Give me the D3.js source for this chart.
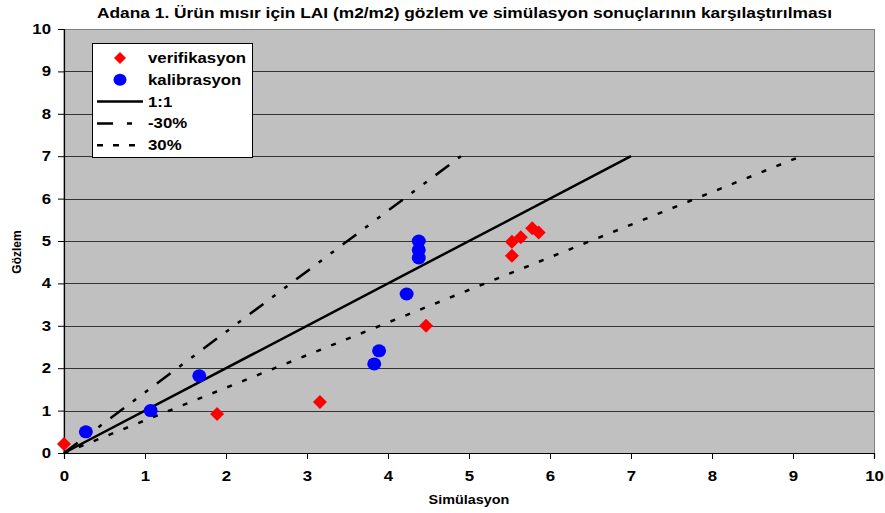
<!DOCTYPE html>
<html>
<head>
<meta charset="utf-8">
<script src="https://cdn.jsdelivr.net/npm/d3@7"></script>
<style>
  body { margin: 0; background: #fff; }
  text { font-family: "Liberation Sans", Arial, sans-serif; font-weight: bold; fill: #000; }
</style>
</head>
<body>
<svg id="chart" width="885" height="513"></svg>
<script>
// data
var verifikasyonX = [0, 1.89, 3.16, 4.47, 5.53, 5.53, 5.64, 5.78, 5.86];
var verifikasyonY = [0.21, 0.92, 1.2, 3.0, 4.65, 4.98, 5.09, 5.3, 5.2];
var kalibrasyonX = [0.27, 1.07, 1.67, 3.83, 3.89, 4.23, 4.38, 4.38, 4.38];
var kalibrasyonY = [0.5, 1.0, 1.82, 2.1, 2.41, 3.75, 4.6, 4.79, 5.0];
var refLines = [
  {name: "1:1", x2: 7, y2: 7, dash: null, legendDash: null},
  {name: "-30%", x2: 4.9, y2: 7, dash: "17,11,4,11,4,11", legendDash: "16,14,5,20"},
  {name: "30%", x2: 9.1, y2: 7, dash: "5,11", legendDash: "6,10"}
];
var ticks = [0, 1, 2, 3, 4, 5, 6, 7, 8, 9, 10];
var title = "Adana 1. Ürün mısır için LAI (m2/m2) gözlem ve simülasyon sonuçlarının karşılaştırılması";

var svg = d3.select("#chart");
var pLeft = 64, pRight = 874, pTop = 29, pBottom = 453;
var stretch = 1.2; // text in the picture is a bit wider than normal

var x = d3.scaleLinear().domain([0, 10]).range([pLeft, pRight]);
var y = d3.scaleLinear().domain([0, 10]).range([pBottom, pTop]);

// plot background
svg.append("rect").attr("x", pLeft).attr("y", pTop + 0.5)
  .attr("width", pRight - pLeft + 0.5).attr("height", pBottom - pTop)
  .attr("fill", "#c0c0c0").attr("stroke", "#808080").attr("stroke-width", 1);

// grid
svg.append("g").selectAll("line").data(ticks.slice(1, 10)).enter().append("line")
  .attr("x1", pLeft).attr("x2", pRight)
  .attr("y1", function(d){ return Math.round(y(d)) + 0.5; })
  .attr("y2", function(d){ return Math.round(y(d)) + 0.5; })
  .attr("stroke", "#333").attr("stroke-width", 1);

// axes
var xAxis = d3.axisBottom(x).tickValues(ticks).tickSize(6).tickPadding(12).tickFormat(d3.format("d"));
var yAxis = d3.axisLeft(y).tickValues(ticks).tickSize(6).tickPadding(13).tickFormat(d3.format("d"));
var gx = svg.append("g").attr("transform", "translate(0," + pBottom + ")").call(xAxis);
var gy = svg.append("g").attr("transform", "translate(" + pLeft + ",0)").call(yAxis);
[gx, gy].forEach(function(g){
  g.select(".domain").attr("stroke", "#000").attr("stroke-width", 1.2);
  g.selectAll(".tick line").attr("stroke", "#000");
  g.selectAll(".tick text").attr("fill", "#000").style("font-size", "14px")
    .style("font-family", "'Liberation Sans', Arial, sans-serif").style("font-weight", "bold");
});
gy.selectAll(".tick text").attr("x", -13 / stretch).attr("transform", "scale(" + stretch + ",1)");
gx.selectAll(".tick text").attr("transform", "scale(" + stretch + ",1)");

// reference lines
svg.append("g").selectAll("line").data(refLines).enter().append("line")
  .attr("x1", x(0)).attr("y1", y(0))
  .attr("x2", function(d){ return x(d.x2); })
  .attr("y2", function(d){ return y(d.y2); })
  .attr("stroke", "#000").attr("stroke-width", 2.5)
  .attr("stroke-dasharray", function(d){ return d.dash; });

// points
var kal = kalibrasyonX.map(function(v, i){ return [v, kalibrasyonY[i]]; });
var ver = verifikasyonX.map(function(v, i){ return [v, verifikasyonY[i]]; });
var diamond = "M0,-7L7,0L0,7L-7,0Z";

svg.append("g").selectAll("ellipse").data(kal).enter().append("ellipse")
  .attr("cx", function(d){ return x(d[0]); })
  .attr("cy", function(d){ return y(d[1]); })
  .attr("rx", 7).attr("ry", 6.5).attr("fill", "#0000ff");

svg.append("g").selectAll("path").data(ver).enter().append("path")
  .attr("d", diamond)
  .attr("transform", function(d){ return "translate(" + x(d[0]) + "," + y(d[1]) + ")"; })
  .attr("fill", "#ff0000");

// legend
var lg = svg.append("g").attr("transform", "translate(92,43)");
lg.append("rect").attr("x", 0.5).attr("y", 0.5).attr("width", 160).attr("height", 114)
  .attr("fill", "#fff").attr("stroke", "#000").attr("stroke-width", 1);
var rows = [
  {label: "verifikasyon", kind: "diamond"},
  {label: "kalibrasyon", kind: "circle"},
  {label: refLines[0].name, kind: "line", dash: refLines[0].legendDash},
  {label: refLines[1].name, kind: "line", dash: refLines[1].legendDash},
  {label: refLines[2].name, kind: "line", dash: refLines[2].legendDash}
];
rows.forEach(function(r, i){
  var cy = 15 + i * 21.8;
  if (r.kind == "diamond") {
    lg.append("path").attr("d", "M0,-6L6,0L0,6L-6,0Z").attr("fill", "#ff0000")
      .attr("transform", "translate(28," + cy + ")");
  } else if (r.kind == "circle") {
    lg.append("ellipse").attr("cx", 28).attr("cy", cy).attr("rx", 6.5).attr("ry", 6).attr("fill", "#0000ff");
  } else {
    lg.append("line").attr("x1", 5).attr("x2", 51).attr("y1", cy).attr("y2", cy)
      .attr("stroke", "#000").attr("stroke-width", 2.5).attr("stroke-dasharray", r.dash);
  }
  lg.append("text").attr("transform", "translate(56," + (cy + 5) + ") scale(" + stretch + ",1)")
    .style("font-size", "14px").text(r.label);
});

// titles
svg.append("text").attr("x", 97).attr("y", 18)
  .attr("textLength", 735).attr("lengthAdjust", "spacingAndGlyphs")
  .style("font-size", "14px").text(title);
svg.append("text").attr("transform", "translate(469,504) scale(" + stretch + ",1)").attr("text-anchor", "middle")
  .style("font-size", "12px").text("Simülasyon");
svg.append("text").attr("transform", "translate(21,252) rotate(-90)").attr("text-anchor", "middle")
  .style("font-size", "12px").text("Gözlem");
</script>
</body>
</html>
